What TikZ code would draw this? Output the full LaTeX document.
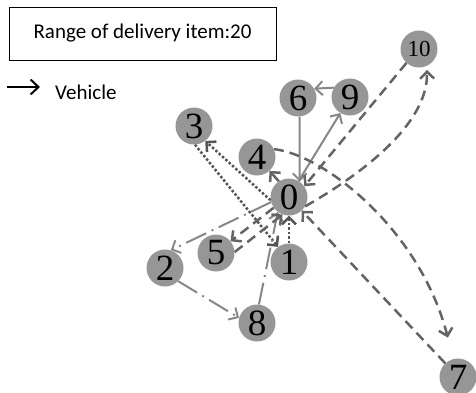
\documentclass[tikz,border=0pt]{standalone}
\usepackage{fontspec}
\setmainfont{Liberation Serif}
\newfontfamily\keyfont{Carlito}
\usetikzlibrary{arrows.meta}

\definecolor{pointgray}{RGB}{150,150,150}
\definecolor{lightroute}{RGB}{135,135,135}
\definecolor{darkroute}{RGB}{100,100,100}
\definecolor{dotroute}{RGB}{85,85,85}

\begin{document}
\begin{tikzpicture}[x=1pt, y=1pt, >={Straight Barb[length=7pt,width=14pt]},
  every point/.style={circle, fill=pointgray, minimum size=37pt, inner sep=0pt, font=\fontsize{37}{37}\selectfont},
  route solid/.style={draw=lightroute, line width=2pt},
  route dash/.style={draw=darkroute, line width=2.5pt, dash pattern=on 10pt off 6pt},
  route dot/.style={draw=dotroute, line width=2.5pt, dash pattern=on 2.5pt off 2pt},
  route dashdot/.style={draw=lightroute, line width=2pt, dash pattern=on 22pt off 6pt on 2pt off 6pt},
  key text/.style={font=\keyfont\fontsize{21}{21}\selectfont}]

\useasboundingbox (0,0) rectangle (476,-392);

% Legend
\node [key text, draw, line width=1pt, minimum width=267pt, minimum height=53pt, inner sep=0pt] (range) at (142.5,-33.5) {Range of delivery item:20};
\node [key text, anchor=base west, inner xsep=15pt, inner ysep=0pt] (vehicle) at (40,-99) {Vehicle};
\coordinate (key) at (7,-87);
\draw [-{Straight Barb[length=8pt,width=15pt]}, line width=2pt] (key) -- (key -| vehicle.west);

% Depot and customers
\foreach \n/\x/\y in {0/289/197, 1/289/262, 2/165/268, 3/194/126, 4/257/157,
                     5/216/253, 6/298/98, 7/458/377, 8/257/323, 9/350/97}
  \node [every point] (point-\n) at (\x,-\y) {\n};
\node [every point, font=\fontsize{23}{23}\selectfont] (point-10) at (419,-49) {10};

% Routes
\foreach \i/\a/\j/\b in {0/59/9/239, 9/150/6/30, 6/-85/0/55}
  \draw [route solid, ->] (point-\i.\a) -- (point-\j.\b);

\foreach \i/\a/\j/\b in {0/190/3/-53, 3/-87/1/126, 1/90/0/-90}
  \draw [route dot, ->] (point-\i.\a) -- (point-\j.\b);

\foreach \i/\a/\j/\b in {0/196/2/72, 2/-45/8/164, 8/84/0/233}
  \draw [route dashdot, ->] (point-\i.\a) -- (point-\j.\b);

\foreach \i/\a/\j/\b in {0/215/5/39, 5/3/0/250, 0/123/4/-48, 7/133/0/-47, 10/228/0/35}
  \draw [route dash, ->] (point-\i.\a) -- (point-\j.\b);

\draw [route dash, ->, shorten >=22pt] (point-4.25) .. controls (325,-155) and (420,-230) .. (point-7);
\draw [route dash, ->, shorten >=4pt] (point-0.-30) .. controls (360,-175) and (428,-125) .. (point-10.-65);

\end{tikzpicture}
\end{document}
